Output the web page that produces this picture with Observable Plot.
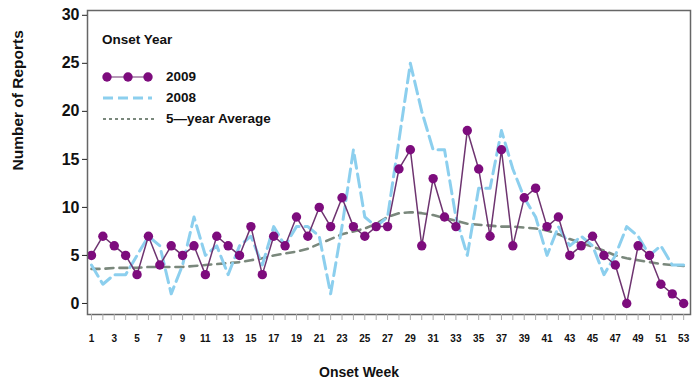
<!DOCTYPE html>
<html><head><meta charset="utf-8">
<script src="https://cdn.jsdelivr.net/npm/d3@7"></script>
<script src="https://cdn.jsdelivr.net/npm/@observablehq/plot@0.6"></script>
<style>
body{margin:0;background:#fff;}
#wrap{position:relative;width:699px;height:381px;font-family:"Liberation Sans",Arial,sans-serif;}
#wrap svg.plot{display:block;}
.lg{position:absolute;font-weight:bold;font-size:13.5px;color:#111;line-height:14px;white-space:nowrap;}
.sw{position:absolute;}
</style></head><body><div id="wrap"></div>
<script>
const weeks = [1,2,3,4,5,6,7,8,9,10,11,12,13,14,15,16,17,18,19,20,21,22,23,24,25,26,27,28,29,30,31,32,33,34,35,36,37,38,39,40,41,42,43,44,45,46,47,48,49,50,51,52,53];
const cases2009 = [5,7,6,5,3,7,4,6,5,6, 3,7,6,5,8,3,7,6,9,7, 10,8,11,8,7,8,8,14,16,6, 13,9,8,18,14,7,16,6,11,12, 8,9,5,6,7,5,4,0,6,5, 2,1,0];
const cases2008 = [4,2,3,3,5,7,6,1,4,9, 5,6,3,6,7,4,8,6,8,8, 7,1,8,16,9,8,9,17,25,20, 16,16,9,5,12,12,18,14,11,9, 5,8,6,7,6,3,5,8,7,5, 6,4,4];
const avg5yr = [3.6,3.6,3.7,3.7,3.7,3.8,3.8,3.8,3.8,3.9, 4.0,4.1,4.2,4.3,4.5,4.7,5.0,5.2,5.4,5.7, 6.2,6.7,7.2,7.5,7.8,8.3,9.0,9.4,9.5,9.4, 9.2,8.9,8.6,8.3,8.2,8.1,8.0,8.0,7.9,7.8, 7.6,7.2,6.7,6.3,5.9,5.5,5.0,4.7,4.5,4.3, 4.1,4.0,3.9];
const yTicks = [0,5,10,15,20,25,30];
const xTickLabels = [1,3,5,7,9,11,13,15,17,19,21,23,25,27,29,31,33,35,37,39,41,43,45,47,49,51,53];
const legendTitle = "Onset Year";
const seriesNames = ["2009","2008","5\u2014year Average"];
const xTitle = "Onset Week";
const yTitle = "Number of Reports";

const c2009 = "#7d0c7d", c2009line = "#6e3470", c2008 = "#8ccfee", cAvg = "#7a887c";

const rows = weeks.map((w,i)=>({week:w, v2009:cases2009[i], v2008:cases2008[i], avg:avg5yr[i]}));

const chart = Plot.plot({
  width:699, height:381,
  marginLeft:87, marginRight:9, marginTop:10, marginBottom:67,
  style:{fontFamily:'"Liberation Sans",Arial,sans-serif', background:"#fff", color:"#111"},
  x:{domain:[0.65,53.6]},
  y:{domain:[-1.15,30.5]},
  marks:[
    Plot.line(rows,{x:"week", y:"avg", stroke:cAvg, strokeWidth:2.6, strokeDasharray:"8,6"}),
    Plot.line(rows,{x:"week", y:"v2008", stroke:c2008, strokeWidth:3, strokeDasharray:"13,6"}),
    Plot.line(rows,{x:"week", y:"v2009", stroke:c2009line, strokeWidth:1.5}),
    Plot.dot(rows,{x:"week", y:"v2009", r:4.7, fill:c2009, stroke:"none"}),
    Plot.frame({stroke:"#666", strokeWidth:1.5}),
    Plot.axisY(yTicks,{tickSize:5, tickPadding:3, fontSize:16, fontWeight:"bold", label:null, stroke:"#222", fill:"#111"}),
    Plot.axisX(weeks,{tickSize:6, tickPadding:14, fontSize:10, fontWeight:"bold", label:null, stroke:"#aaa", fill:"#111",
      tickFormat:d => xTickLabels.includes(d) ? String(d) : ""}),
    Plot.text([yTitle],{frameAnchor:"left", dx:-69, dy:8, rotate:-90, fontSize:15.5, fontWeight:"bold", fill:"#111"}),
    Plot.text([xTitle],{frameAnchor:"bottom", dx:-30, dy:62, fontSize:14, fontWeight:"bold", fill:"#111"})
  ]
});
chart.classList.add("plot");
const wrap = document.getElementById("wrap");
wrap.appendChild(chart);

function addText(txt, left, cy){
  const d = document.createElement("div");
  d.className = "lg"; d.textContent = txt;
  d.style.left = left+"px"; d.style.top = (cy-7)+"px";
  wrap.appendChild(d);
}
function addSwatch(cy, inner){
  const ns = "http://www.w3.org/2000/svg";
  const s = document.createElementNS(ns,"svg");
  s.setAttribute("class","sw"); s.setAttribute("width","60"); s.setAttribute("height","14");
  s.style.left = "100px"; s.style.top = (cy-7)+"px";
  s.innerHTML = inner;
  wrap.appendChild(s);
}
addText(legendTitle, 102, 40);
addSwatch(77, `<line x1="4" x2="52" y1="7" y2="7" stroke="${c2009line}" stroke-width="1.2"/>`+
  [7,28,48].map(cx=>`<circle cx="${cx}" cy="7" r="4.7" fill="${c2009}"/>`).join(""));
addText(seriesNames[0], 166, 77);
addSwatch(98, `<line x1="3" x2="52" y1="7" y2="7" stroke="${c2008}" stroke-width="3" stroke-dasharray="10,5"/>`);
addText(seriesNames[1], 166, 98);
addSwatch(119, `<line x1="3" x2="54" y1="7" y2="7" stroke="${cAvg}" stroke-width="2" stroke-dasharray="3,3"/>`);
addText(seriesNames[2], 166, 119);
</script>
</body></html>
